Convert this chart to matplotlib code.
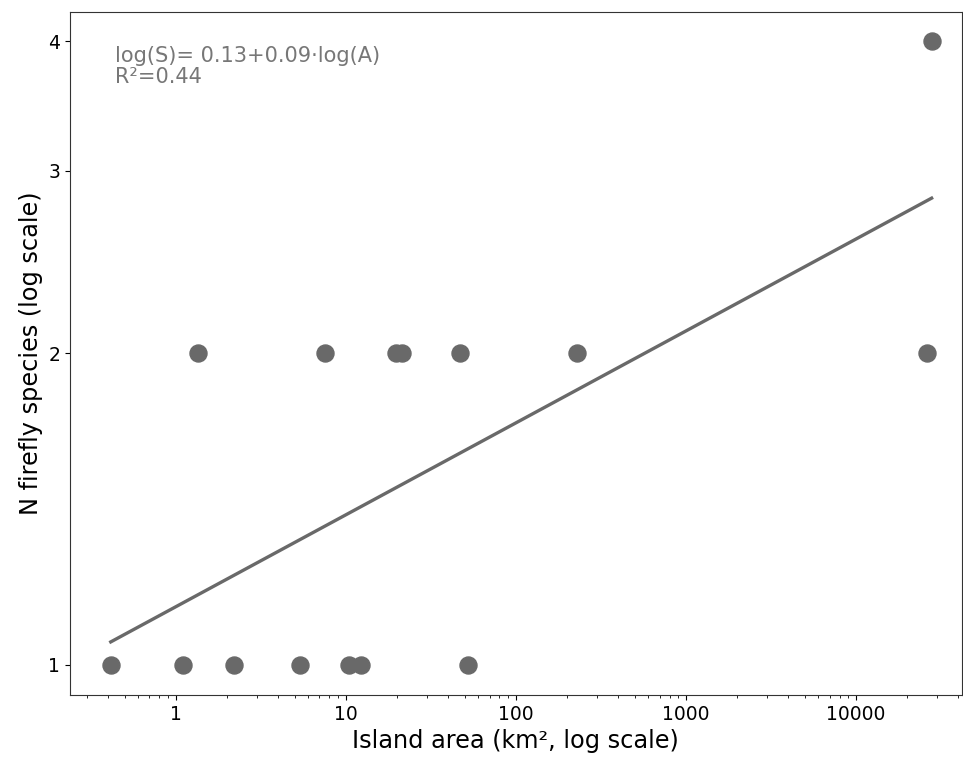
import numpy as np
import matplotlib.pyplot as plt
from matplotlib.ticker import FixedLocator, ScalarFormatter, NullLocator

# island area (km2) and number of firefly species
area = [0.415, 1.10, 2.19, 5.35, 10.4, 12.2, 52.5,
        1.35, 7.5, 19.6, 21.5, 47.1, 229, 26000,
        27800]
species = [1, 1, 1, 1, 1, 1, 1,
           2, 2, 2, 2, 2, 2, 2,
           4]

# fit on natural logs: ln(S) = intercept + slope * ln(A)
intercept = 0.129
slope = 0.0888
r2 = 0.44

area = np.array(area)
species = np.array(species)
grey = "#696969"

fig = plt.figure(figsize=(9.63, 7.64), dpi=100)
ax = fig.add_axes([0.0727, 0.0903, 0.926, 0.894])

ax.scatter(area, species, s=150, color=grey, zorder=3)

x_fit = np.array([area.min(), area.max()])
y_fit = np.exp(intercept + slope * np.log(x_fit))
ax.plot(x_fit, y_fit, color=grey, linewidth=2.4)

ax.set_xscale("log")
ax.set_yscale("log")
ax.set_xlim(0.239, 41800)
ax.set_ylim(0.935, 4.27)

ax.yaxis.set_major_locator(FixedLocator([1, 2, 3, 4]))
ax.yaxis.set_major_formatter(ScalarFormatter())
ax.yaxis.set_minor_locator(NullLocator())
ax.xaxis.set_major_formatter(plt.FuncFormatter(lambda v, p: "%g" % v))

ax.tick_params(labelsize=13.5)
for sp in ax.spines.values():
    sp.set_color("#333333")

ax.set_xlabel("Island area (km², log scale)", fontsize=17.3)
ax.set_ylabel("N firefly species (log scale)", fontsize=17.3)

ax.text(0.05, 0.95, "log(S)= %.2f+%.2f·log(A)\nR²=%.2f" % (intercept, slope, r2),
        transform=ax.transAxes, va="top", ha="left", fontsize=15, color="#777777",
        linespacing=1.05)

fig.savefig("out.png", dpi=100)
